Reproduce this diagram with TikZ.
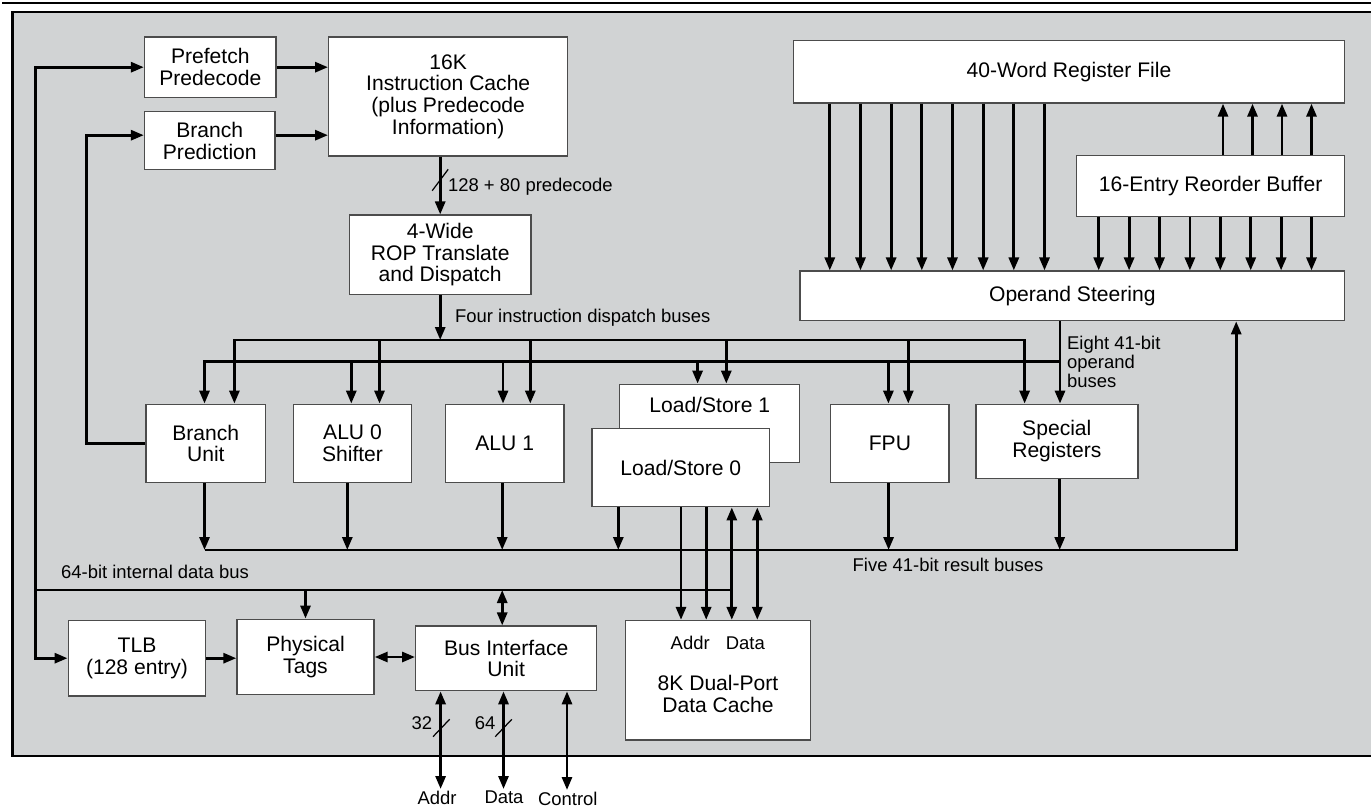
\documentclass[tikz,border=0pt]{standalone}
\usepackage{fontspec}
\setmainfont{Liberation Sans}
\usetikzlibrary{arrows.meta}
\definecolor{framegray}{RGB}{209,211,212}
\begin{document}
\begin{tikzpicture}[
    x=0.02cm, y=-0.02cm,
    utxt/.style={font=\fontsize{12}{12.3}\selectfont, align=center},
    unit/.style={draw=black!70, line width=0.8pt, fill=white, inner sep=0pt, utxt},
    lbl/.style={font=\fontsize{10.5}{10.8}\selectfont, inner sep=1pt, align=left},
    arr/.style={line width=1.6pt, -{Triangle[length=0.26cm, width=0.2cm]}},
    dbl/.style={line width=1.6pt, {Triangle[length=0.26cm, width=0.2cm]}-{Triangle[length=0.26cm, width=0.2cm]}},
    bus/.style={line width=1.6pt},
    slash/.style={line width=0.7pt},
  ]
    \useasboundingbox (0,0) rectangle (1371,807);

    % Rahmen
    \draw[line width=1.2pt] (2,3) -- (1371,3);
    \fill[framegray] (12.5,12) rectangle (1371,756);
    \draw[line width=1.4pt] (1371,12) -- (12.5,12) -- (12.5,756) -- (1371,756);

    % Fetch
    \node[unit, minimum width=2.63cm, minimum height=1.21cm] (pref) at (210.3,67.2) {Prefetch\\Predecode};
    \node[unit, minimum width=2.61cm, minimum height=1.16cm] (bpred) at (209.8,140.7) {Branch\\Prediction};
    \node[unit, minimum width=4.78cm, minimum height=2.38cm] (icache) at (448.2,96.5) {16K\\Instruction Cache\\(plus Predecode\\Information)};
    \node[unit, minimum width=3.63cm, minimum height=1.59cm] (rop) at (440.2,254.9) {4-Wide\\ROP Translate\\and Dispatch};

    % Register file, reorder buffer
    \node[unit, minimum width=11.03cm, minimum height=1.25cm] (regfile) at (1069,71.7) {40-Word Register File};
    \node[unit, minimum width=5.36cm, minimum height=1.22cm] (rob) at (1210.6,186.2) {16-Entry Reorder Buffer};
    \node[unit, minimum width=10.89cm, minimum height=0.99cm] (opsteer) at (1072.3,295.9) {Operand Steering};

    % Execution units
    \node[unit, minimum width=2.39cm, minimum height=1.56cm] (brunit) at (205.8,443.3) {Branch\\Unit};
    \node[unit, minimum width=2.37cm, minimum height=1.56cm] (alu0) at (352.5,443.3) {ALU 0\\Shifter};
    \node[unit, minimum width=2.37cm, minimum height=1.56cm] (alu1) at (504.7,443.3) {ALU 1};
    \node[unit, minimum width=3.6cm, minimum height=1.56cm,
          label={[utxt, anchor=center, yshift=-0.43cm]north:Load/Store 1}] (ls1) at (709.7,423.3) {};
    \node[unit, minimum width=3.55cm, minimum height=1.56cm] (ls0) at (680.8,467.7) {Load/Store 0};
    \node[unit, minimum width=2.37cm, minimum height=1.56cm] (fpu) at (889.9,443.3) {FPU};
    \node[unit, minimum width=3.24cm, minimum height=1.48cm] (sreg) at (1056.8,441.3) {Special\\Registers};

    % Memory side
    \node[unit, minimum width=2.75cm, minimum height=1.51cm] (tlb) at (137,658.2) {TLB\\(128 entry)};
    \node[unit, minimum width=2.74cm, minimum height=1.51cm] (ptags) at (305.5,657) {Physical\\Tags};
    \node[unit, minimum width=3.62cm, minimum height=1.29cm] (biu) at (506.2,658.4) {Bus Interface\\Unit};
    \node[unit, minimum width=3.7cm, minimum height=2.39cm,
          label={[utxt, anchor=center, yshift=-0.27cm]center:8K Dual-Port\\Data Cache}] (dcache) at (718,680.3) {};
    \node[lbl] (dcaddr) at (690.2,643.3) {Addr};
    \node[lbl] (dcdata) at (745.3,643.3) {Data};

    % Busse
    \coordinate (dspL) at (234.4,340);
    \coordinate (dspR) at (1024.6,340);
    \coordinate (oprL) at (204.5,361.7);
    \coordinate (oprR) at (1060,361.7);
    \coordinate (resL) at (204.5,550);
    \coordinate (resR) at (1236.2,550);
    \coordinate (ibusL) at (35.7,590);
    \coordinate (ibusR) at (731.8,590);

    % Fetch-Pfeile
    \draw[arr] (pref.east) -- (pref.east -| icache.west);
    \draw[arr] ([yshift=0.11cm]bpred.east) -- ([yshift=0.11cm]bpred.east -| icache.west);
    \draw[arr] (rop.north |- icache.south) -- (rop.north);
    \draw[slash] (440.2,180) ++(-8,10.7) -- ++(16,-21.4);
    \node[lbl, anchor=west] (predlbl) at (446,186.7) {128 + 80 predecode};
    \draw[arr] (rop.south) -- (rop.south |- dspL);
    \node[lbl, anchor=west] (displbl) at (453,318) {Four instruction dispatch buses};

    % Dispatch bus
    \draw[arr] (dspR) -- (dspL) -- (brunit.north -| dspL);
    \draw[arr] (dspL) -- (dspR) -- (sreg.north -| dspR);
    \foreach \x/\u in {379.5/alu0, 530.3/alu1, 726.3/ls1, 908.3/fpu}
      \draw[arr] (\x,340) -- (\u.north -| \x,0);

    % Operand buses
    \foreach \i [evaluate=\i as \x using 829.8+30.67*\i] in {0,...,7}
      \draw[arr] (regfile.south -| \x,0) -- (opsteer.north -| \x,0);
    \foreach \i [evaluate=\i as \x using 1098.7+30.4*\i] in {0,...,7}
      \draw[arr] (rob.south -| \x,0) -- (opsteer.north -| \x,0);
    \foreach \i [evaluate=\i as \x using 1223+29.5*\i] in {0,...,3}
      \draw[arr] (rob.north -| \x,0) -- (regfile.south -| \x,0);
    \draw[arr] (opsteer.south -| oprR) -- (sreg.north -| oprR);
    \draw[arr] (oprR) -- (oprL) -- (brunit.north -| oprL);
    \foreach \x/\u in {351.3/alu0, 503/alu1, 697.6/ls1, 888.4/fpu}
      \draw[arr] (\x,361.7) -- (\u.north -| \x,0);
    \node[lbl, anchor=west] (oprlbl) at (1065,362.2) {Eight 41-bit\\operand\\buses};

    % Result buses
    \draw[arr] (brunit.south -| resL) -- (resL);
    \draw[arr] (resL) -- (resR) -- (opsteer.south -| resR);
    \foreach \x/\u in {347.3/alu0, 502.2/alu1, 618.3/ls0, 888.6/fpu, 1059.7/sreg}
      \draw[arr] (\u.south -| \x,0) -- (\x,550);
    \node[lbl] (reslbl) at (948,565) {Five 41-bit result buses};

    % Branch feedback
    \draw[arr] (brunit.west) -- ++(-59,0) |- ([yshift=0.11cm]bpred.west);

    % Internal data bus
    \draw[bus] (ibusL) -- (ibusR);
    \node[lbl, anchor=west] (ibuslbl) at (59,571.7) {64-bit internal data bus};
    \draw[arr] (ibusL) |- (pref.west);
    \draw[arr] (ibusL) |- (tlb.west);
    \draw[arr] (ptags.north |- ibusL) -- (ptags.north);
    \draw[dbl] (502.2,590) -- (biu.north -| 502.2,0);

    % Load/Store 0 to data cache
    \foreach \x in {681, 706.2}
      \draw[arr] (ls0.south -| \x,0) -- (dcache.north -| \x,0);
    \foreach \x in {731.8, 757.3}
      \draw[dbl] (ls0.south -| \x,0) -- (dcache.north -| \x,0);

    % TLB, tags, BIU
    \draw[arr] (tlb.east) -- (tlb.east -| ptags.west);
    \draw[dbl] (ptags.east) -- (ptags.east -| biu.west);

    % External pins
    \node[lbl, anchor=north] (addr) at (437,789) {Addr};
    \node[lbl, anchor=north] (dat) at (504,789) {Data};
    \node[lbl, anchor=north] (ctrl) at (567.8,790) {Control};
    \foreach \x/\n in {440.6/addr, 503.5/dat, 567/ctrl}
      \draw[dbl] (biu.south -| \x,0) -- (\n.north -| \x,0);
    \draw[slash] (441.3,728) ++(-8.3,8.7) -- ++(16.6,-17.4);
    \draw[slash] (503.5,728) ++(-8.3,8.7) -- ++(16.6,-17.4);
    \node[lbl] (w32) at (421.8,722.7) {32};
    \node[lbl] (w64) at (485.2,722.7) {64};
  \end{tikzpicture}
\end{document}
